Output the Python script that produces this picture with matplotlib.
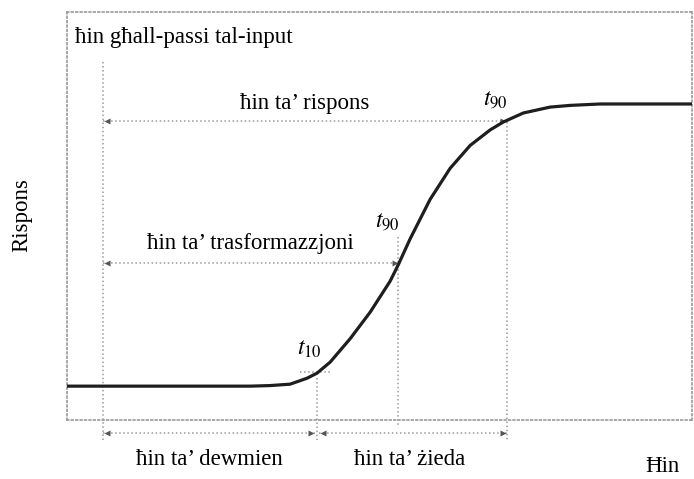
import matplotlib
matplotlib.use('Agg')
import matplotlib.pyplot as plt

plt.rcParams['font.family'] = ['Liberation Serif', 'DejaVu Serif']
plt.rcParams['mathtext.fontset'] = 'stix'

# step response curve (time in arbitrary units, response normalised)
t = [0, 20.0, 26.0, 29.3, 32.5, 35.7, 38.4, 40.0, 42.1, 45.3, 48.5, 51.7, 53.0,
     54.9, 58.1, 61.3, 64.5, 67.7, 69.8, 73.0, 77.3, 80.5, 85.3, 100]
resp = [0, 0, 0.0, 0.0, 0.002, 0.007, 0.028, 0.046, 0.085, 0.168, 0.262, 0.372,
        0.43, 0.522, 0.662, 0.772, 0.853, 0.908, 0.936, 0.968, 0.989, 0.995,
        1.0, 1.0]

# characteristic times
t_input = 5.8
t_10 = 40.0
t_90a = 53.0
t_90b = 70.4
y_10 = 0.05
y_90a = 0.436
y_90b = 0.94

gray = '#9a9a9a'
fig = plt.figure(figsize=(6.94, 4.79), dpi=100)
ax = fig.add_axes([67 / 694, 59 / 479, 625 / 694, 408 / 479])
ax.set_xlim(0, 100)
ax.set_ylim(-0.12, 1.326)
ax.set_xticks([])
ax.set_yticks([])
for s in ax.spines.values():
    s.set_linestyle(':')
    s.set_color(gray)
    s.set_linewidth(1.2)

ax.plot(t, resp, color='#1e1e1e', lw=2.3, solid_capstyle='butt',
        solid_joinstyle='round', zorder=5)

kw = dict(color=gray, ls=':', lw=1.1, clip_on=False)
ax.plot([t_input, t_input], [-0.19, 1.156], **kw)
ax.plot([t_10, t_10], [0.03, -0.19], **kw)
ax.plot([t_90a, t_90a], [0.53, -0.138], **kw)
ax.plot([t_90b, t_90b], [0.935, -0.19], **kw)
ax.plot([37.3, 42.4], [y_10, y_10], **kw)


def span(x0, x1, y, label=None, ly=None, lx=None):
    ax.plot([x0, x1], [y, y], color=gray, ls=':', lw=1.1, clip_on=False)
    ax.plot([x0 + 0.6], [y], marker='<', ms=4, color='#555555', mec='none', clip_on=False)
    ax.plot([x1 - 0.6], [y], marker='>', ms=4, color='#555555', mec='none', clip_on=False)
    if label:
        ax.text(lx if lx is not None else (x0 + x1) / 2, ly, label, ha='center', va='center',
                fontsize=16.5, clip_on=False)


span(t_input, t_90b, y_90b, 'ħin ta’ rispons', 1.0, 38.0)
span(t_input, t_90a, y_90a, 'ħin ta’ trasformazzjoni', 0.505, 29.3)
span(t_input, t_10 - 0.3, -0.167, 'ħin ta’ dewmien', -0.26, 22.8)
span(t_10 + 0.3, t_90b, -0.167, 'ħin ta’ żieda', -0.26, 54.9)

ax.text(1.3, 1.236, 'ħin għall-passi tal-input', fontsize=16.5, va='center', ha='left')
ax.text(68.5, 1.015, '$t_{90}$', fontsize=17, ha='center', va='center')
ax.text(51.2, 0.585, '$t_{90}$', fontsize=17, ha='center', va='center')
ax.text(38.8, 0.13, '$t_{10}$', fontsize=17, ha='center', va='center')

fig.text(22 / 694, 1 - 215 / 479, 'Rispons', rotation=90, fontsize=16.5, ha='center', va='center')
fig.text(662 / 694, 1 - 466 / 479, 'Ħin', fontsize=16.5, ha='center', va='center')

fig.savefig('out.png', dpi=100)
